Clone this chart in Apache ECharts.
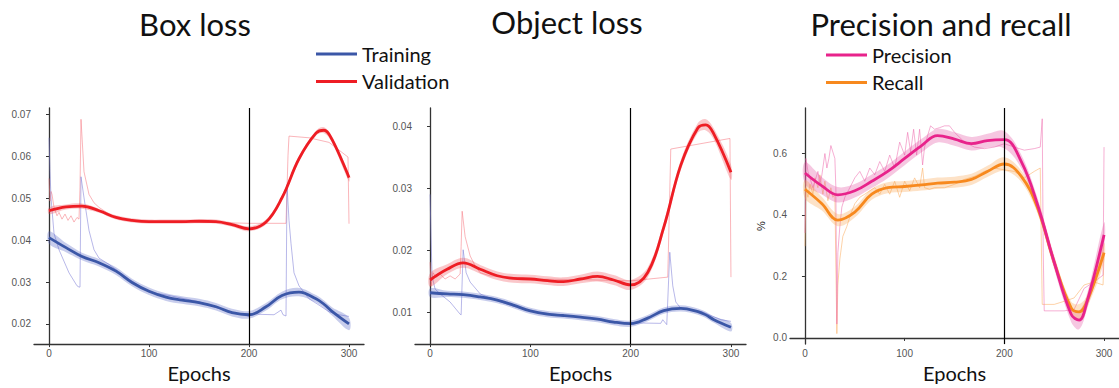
<!DOCTYPE html>
<html><head><meta charset="utf-8">
<script src="https://cdn.jsdelivr.net/npm/echarts@6/dist/echarts.min.js"></script>
<style>html,body{margin:0;padding:0;background:#fff}#c{width:1119px;height:388px}</style>
</head><body><div id="c"></div>
<script>
// ---- tick labels ----
const xTicks = [0, 100, 200, 300];
const boxTicks = [0.02, 0.03, 0.04, 0.05, 0.06, 0.07];
const objTicks = [0.01, 0.02, 0.03, 0.04];
const prTicks = [0.0, 0.2, 0.4, 0.6];

// ---- smoothed curves (epochs shared) ----
const smoothEpochs = [0,17,33,50,67,83,100,117,133,150,167,183,200,217,233,250,267,275,283,300];
const boxTrainSmooth = [0.0406,0.0382,0.0361,0.0346,0.0326,0.0299,0.0278,0.0264,0.0257,0.0251,0.0241,0.0227,0.0222,0.0241,0.0268,0.0276,0.0260,0.0247,0.0230,0.0200];
const boxTrainBand   = [0.0015,0.0011,0.0009,0.0009,0.0009,0.0009,0.0009,0.0009,0.0009,0.0009,0.0009,0.0009,0.0009,0.0009,0.0009,0.0010,0.0009,0.0009,0.0010,0.0015];
const boxValSmooth   = [0.0470,0.0479,0.0481,0.0470,0.0454,0.0447,0.0444,0.0444,0.0444,0.0445,0.0444,0.0437,0.0427,0.0443,0.0501,0.0594,0.0655,0.0662,0.0640,0.0549];
const boxValBand     = [0.0008,0.0006,0.0006,0.0005,0.0005,0.0005,0.0005,0.0005,0.0005,0.0005,0.0005,0.0005,0.0006,0.0006,0.0006,0.0006,0.0006,0.0007,0.0007,0.0009];
const objTrainSmooth = [0.01319,0.0130,0.01288,0.01251,0.0120,0.0112,0.01026,0.00974,0.00953,0.00927,0.00895,0.00848,0.00822,0.00911,0.01031,0.01068,0.01016,0.00963,0.00885,0.00764];
const objTrainBand   = [0.0007,0.0005,0.0005,0.0005,0.0005,0.0005,0.0005,0.0005,0.0005,0.0005,0.0005,0.0005,0.0005,0.0005,0.0005,0.0005,0.0005,0.0005,0.0005,0.0007];
const objValSmooth   = [0.01524,0.01696,0.0180,0.01696,0.01592,0.0155,0.0154,0.01513,0.01497,0.0154,0.01581,0.01524,0.01445,0.01644,0.0237,0.03372,0.0397,0.0402,0.0387,0.03257];
const objValBand     = [0.0011,0.0008,0.0008,0.0007,0.0007,0.0007,0.0007,0.0007,0.0007,0.0007,0.0008,0.0008,0.0008,0.0008,0.0008,0.0008,0.0008,0.0009,0.0009,0.0012];
const precSmooth     = [0.536,0.494,0.465,0.478,0.509,0.541,0.583,0.625,0.657,0.646,0.631,0.641,0.644,0.573,0.436,0.246,0.077,0.058,0.119,0.335];
const precBand       = [0.035,0.028,0.025,0.022,0.022,0.022,0.022,0.022,0.022,0.022,0.022,0.022,0.028,0.022,0.022,0.022,0.025,0.03,0.025,0.04];
const recSmooth      = [0.483,0.436,0.383,0.409,0.467,0.488,0.492,0.497,0.503,0.506,0.515,0.541,0.565,0.525,0.425,0.246,0.098,0.085,0.119,0.277];
const recBand        = [0.03,0.022,0.02,0.018,0.018,0.018,0.018,0.018,0.018,0.018,0.018,0.018,0.022,0.018,0.018,0.018,0.02,0.025,0.02,0.03];

// ---- raw per-epoch traces ----
const boxTrainRawE = [0,1,2,5,10,20,28,30,31,32,35,40,45,50,60,80,100,120,150,180,200,205,210,225,232,234,237,238,240,242,245,250,260,270,280,290,300];
const boxTrainRawV = [0.0644,0.0563,0.0501,0.0416,0.0377,0.0322,0.0291,0.0288,0.0288,0.0551,0.0501,0.0423,0.0377,0.0357,0.0342,0.0307,0.0276,0.0268,0.0253,0.0229,0.0218,0.0226,0.0223,0.0222,0.0233,0.0222,0.0219,0.0532,0.0447,0.0392,0.0322,0.0291,0.0260,0.0245,0.0229,0.0222,0.0218];
const boxValRawE = [0,1,2,3,5,8,10,13,16,19,22,25,28,30,31,32,35,40,45,50,60,70,80,100,150,200,237,239,240,260,280,299,300];
const boxValRawV = [0.0547,0.0493,0.0516,0.0509,0.0478,0.0458,0.0466,0.0450,0.0462,0.0447,0.0458,0.0443,0.0454,0.0450,0.0524,0.0688,0.0563,0.0509,0.0489,0.0478,0.0462,0.0450,0.0447,0.0443,0.0443,0.0440,0.0440,0.0602,0.0648,0.0644,0.0633,0.0598,0.0439];
const objTrainRawE = [0,1,2,5,10,20,30,31,33,36,40,50,60,80,100,150,200,210,230,232,236,239,242,245,250,270,290,300];
const objTrainRawV = [0.0290,0.0222,0.0159,0.0138,0.0130,0.0117,0.00974,0.00963,0.0201,0.0164,0.0149,0.0130,0.0123,0.0112,0.0102,0.00927,0.00822,0.00832,0.00827,0.00885,0.00806,0.0197,0.0143,0.0117,0.0107,0.0102,0.00885,0.00859];
const objValRawE = [0,1,3,6,10,15,20,25,30,31,32,35,40,45,50,60,80,100,150,200,237,240,299,300];
const objValRawV = [0.0181,0.0143,0.0164,0.0157,0.0162,0.0154,0.0159,0.0154,0.0162,0.0206,0.0263,0.0222,0.0191,0.0175,0.0164,0.0159,0.0157,0.0154,0.0153,0.0151,0.0157,0.0363,0.0380,0.0157];
const precRawE = [0,1,3,5,8,10,13,15,17,20,22,24,26,28,30,31,32,33,35,37,40,45,50,55,60,65,70,75,80,85,90,95,100,103,106,109,112,115,118,120,123,126,130,135,140,145,150,160,170,180,190,200,210,220,230,236,238,239,240,250,260,270,280,290,299,300];
const precRawV = [0.341,0.583,0.541,0.520,0.488,0.509,0.541,0.499,0.530,0.599,0.552,0.583,0.625,0.604,0.583,0.488,0.045,0.277,0.362,0.425,0.457,0.488,0.520,0.541,0.509,0.552,0.530,0.573,0.541,0.594,0.552,0.636,0.594,0.668,0.604,0.678,0.594,0.678,0.562,0.620,0.657,0.689,0.678,0.683,0.689,0.689,0.668,0.636,0.620,0.615,0.620,0.631,0.620,0.610,0.615,0.620,0.712,0.277,0.088,0.088,0.088,0.093,0.161,0.182,0.204,0.620];
const recRawE = [0,1,3,5,8,10,13,15,18,20,23,26,28,30,32,33,35,38,42,46,50,55,60,65,70,75,80,85,90,95,100,105,110,115,118,120,125,130,140,150,160,170,180,190,200,210,220,230,236,238,240,250,260,270,280,290,299,300];
const recRawV = [0.298,0.488,0.457,0.499,0.467,0.520,0.488,0.530,0.467,0.509,0.446,0.488,0.457,0.467,0.014,0.172,0.256,0.330,0.362,0.404,0.436,0.457,0.467,0.478,0.488,0.467,0.499,0.467,0.509,0.457,0.509,0.478,0.520,0.488,0.552,0.488,0.483,0.488,0.488,0.499,0.515,0.525,0.541,0.552,0.546,0.541,0.520,0.541,0.552,0.109,0.109,0.109,0.119,0.130,0.172,0.182,0.172,0.272];

// ---- styling ----
const C = {
  train: '#3B57A7', trainRaw: 'rgba(125,125,215,0.55)', trainBand: 'rgba(85,100,195,0.32)',
  val: '#EE1D24', valRaw: 'rgba(245,120,130,0.55)', valBand: 'rgba(240,70,80,0.3)',
  prec: '#E8238B', precRaw: 'rgba(238,110,175,0.55)', precBand: 'rgba(225,70,155,0.3)',
  rec: '#F7891E', recRaw: 'rgba(252,180,110,0.6)', recBand: 'rgba(250,165,80,0.32)'
};
const FONT = 'Lato';
const TICKFONT = 'Liberation Sans';

function zip(E, V) { return E.map((e, i) => [e, V[i]]); }
function raw(name, E, V, color, gi) {
  return { name: name, type: 'line', xAxisIndex: gi, yAxisIndex: gi, data: zip(E, V),
    showSymbol: false, symbol: 'none', lineStyle: { color: color, width: 1 }, color: color, silent: true, z: 1 };
}
function band(E, center, hw, color, gi) {
  return { type: 'custom', xAxisIndex: gi, yAxisIndex: gi, silent: true, z: 2,
    data: [[E[0], center[0]]],
    renderItem: function (params, api) {
      const up = E.map((e, i) => api.coord([e, center[i] + hw[i]]));
      const lo = E.map((e, i) => api.coord([e, center[i] - hw[i]])).reverse();
      return { type: 'polygon', shape: { points: up.concat(lo), smooth: 0.35 }, style: { fill: color } };
    } };
}
function smooth(name, E, V, color, gi, withLine) {
  const s = { name: name, type: 'line', xAxisIndex: gi, yAxisIndex: gi, data: zip(E, V), color: color,
    smooth: 0.4, showSymbol: false, symbol: 'none', lineStyle: { color: color, width: 2.8 }, z: 3 };
  if (withLine) {
    s.markLine = { silent: true, symbol: ['none', 'none'], label: { show: false },
      lineStyle: { color: '#000', width: 1.2, type: 'solid' }, data: [{ xAxis: 200 }], animation: false };
  }
  return s;
}

const grids = [
  { left: 34, top: 108, width: 330, height: 242 },
  { left: 415, top: 108, width: 331, height: 242 },
  { left: 790, top: 108, width: 338, height: 242 }
];
function xAxis(gi) {
  return { type: 'value', gridIndex: gi, min: -15, max: 315,
    name: 'Epochs', nameLocation: 'middle', nameGap: 14,
    nameTextStyle: { fontFamily: FONT, fontSize: 20, color: '#111' },
    axisLine: { show: true, lineStyle: { color: '#333', width: 1.3 } },
    axisTick: { show: true, customValues: xTicks, length: 3, lineStyle: { color: '#333' } },
    axisLabel: { customValues: xTicks, fontFamily: TICKFONT, fontSize: 10, color: '#555', margin: 4 },
    splitLine: { show: false } };
}
function yAxis(gi, min, max, ticks, dec, name) {
  return { type: 'value', gridIndex: gi, min: min, max: max,
    name: name || '', nameLocation: 'middle', nameGap: 24, nameRotate: 90,
    nameTextStyle: { fontFamily: TICKFONT, fontSize: 11, color: '#222' },
    axisLine: { show: true, lineStyle: { color: '#333', width: 1.3 } },
    axisTick: { show: true, customValues: ticks, length: 3, lineStyle: { color: '#333' } },
    axisLabel: { customValues: ticks, formatter: v => Number(v).toFixed(dec), fontFamily: TICKFONT, fontSize: 10, color: '#555', margin: 3 },
    splitLine: { show: false } };
}

const series = [
  raw('boxValRaw', boxValRawE, boxValRawV, C.valRaw, 0),
  raw('boxTrainRaw', boxTrainRawE, boxTrainRawV, C.trainRaw, 0),
  band(smoothEpochs, boxTrainSmooth, boxTrainBand, C.trainBand, 0),
  band(smoothEpochs, boxValSmooth, boxValBand, C.valBand, 0),
  smooth('Training', smoothEpochs, boxTrainSmooth, C.train, 0, true),
  smooth('Validation', smoothEpochs, boxValSmooth, C.val, 0, false),

  raw('objValRaw', objValRawE, objValRawV, C.valRaw, 1),
  raw('objTrainRaw', objTrainRawE, objTrainRawV, C.trainRaw, 1),
  band(smoothEpochs, objTrainSmooth, objTrainBand, C.trainBand, 1),
  band(smoothEpochs, objValSmooth, objValBand, C.valBand, 1),
  smooth('Training', smoothEpochs, objTrainSmooth, C.train, 1, true),
  smooth('Validation', smoothEpochs, objValSmooth, C.val, 1, false),

  raw('recRaw', recRawE, recRawV, C.recRaw, 2),
  raw('precRaw', precRawE, precRawV, C.precRaw, 2),
  band(smoothEpochs, precSmooth, precBand, C.precBand, 2),
  band(smoothEpochs, recSmooth, recBand, C.recBand, 2),
  smooth('Recall', smoothEpochs, recSmooth, C.rec, 2, false),
  smooth('Precision', smoothEpochs, precSmooth, C.prec, 2, true)
];

const titleStyle = { fontFamily: FONT, fontSize: 31, fill: '#111', align: 'center', verticalAlign: 'top' };
const legendText = { fontFamily: FONT, fontSize: 20, color: '#111', lineHeight: 24 };
const chart = echarts.init(document.getElementById('c'), null, { renderer: 'svg' });
chart.setOption({
  animation: false,
  backgroundColor: '#fff',
  grid: grids,
  xAxis: [xAxis(0), xAxis(1), xAxis(2)],
  yAxis: [
    yAxis(0, 0.0152, 0.0715, boxTicks, 2),
    yAxis(1, 0.00493, 0.0429, objTicks, 2),
    yAxis(2, -0.02, 0.747, prTicks, 1, '%')
  ],
  legend: [
    { data: ['Training', 'Validation'], orient: 'vertical', left: 316, top: 42, padding: 0, icon: 'rect',
      itemWidth: 41, itemHeight: 3, itemGap: 3.4, selectedMode: false, textStyle: legendText },
    { data: ['Precision', 'Recall'], orient: 'vertical', left: 826, top: 43, padding: 0, icon: 'rect',
      itemWidth: 41, itemHeight: 3, itemGap: 3.4, selectedMode: false, textStyle: legendText }
  ],
  graphic: [
    { type: 'text', x: 195, y: 8, style: Object.assign({ text: 'Box loss' }, titleStyle) },
    { type: 'text', x: 567, y: 6, style: Object.assign({ text: 'Object loss' }, titleStyle) },
    { type: 'text', x: 941, y: 8, style: Object.assign({ text: 'Precision and recall' }, titleStyle) }
  ],
  series: series
});
</script></body></html>
